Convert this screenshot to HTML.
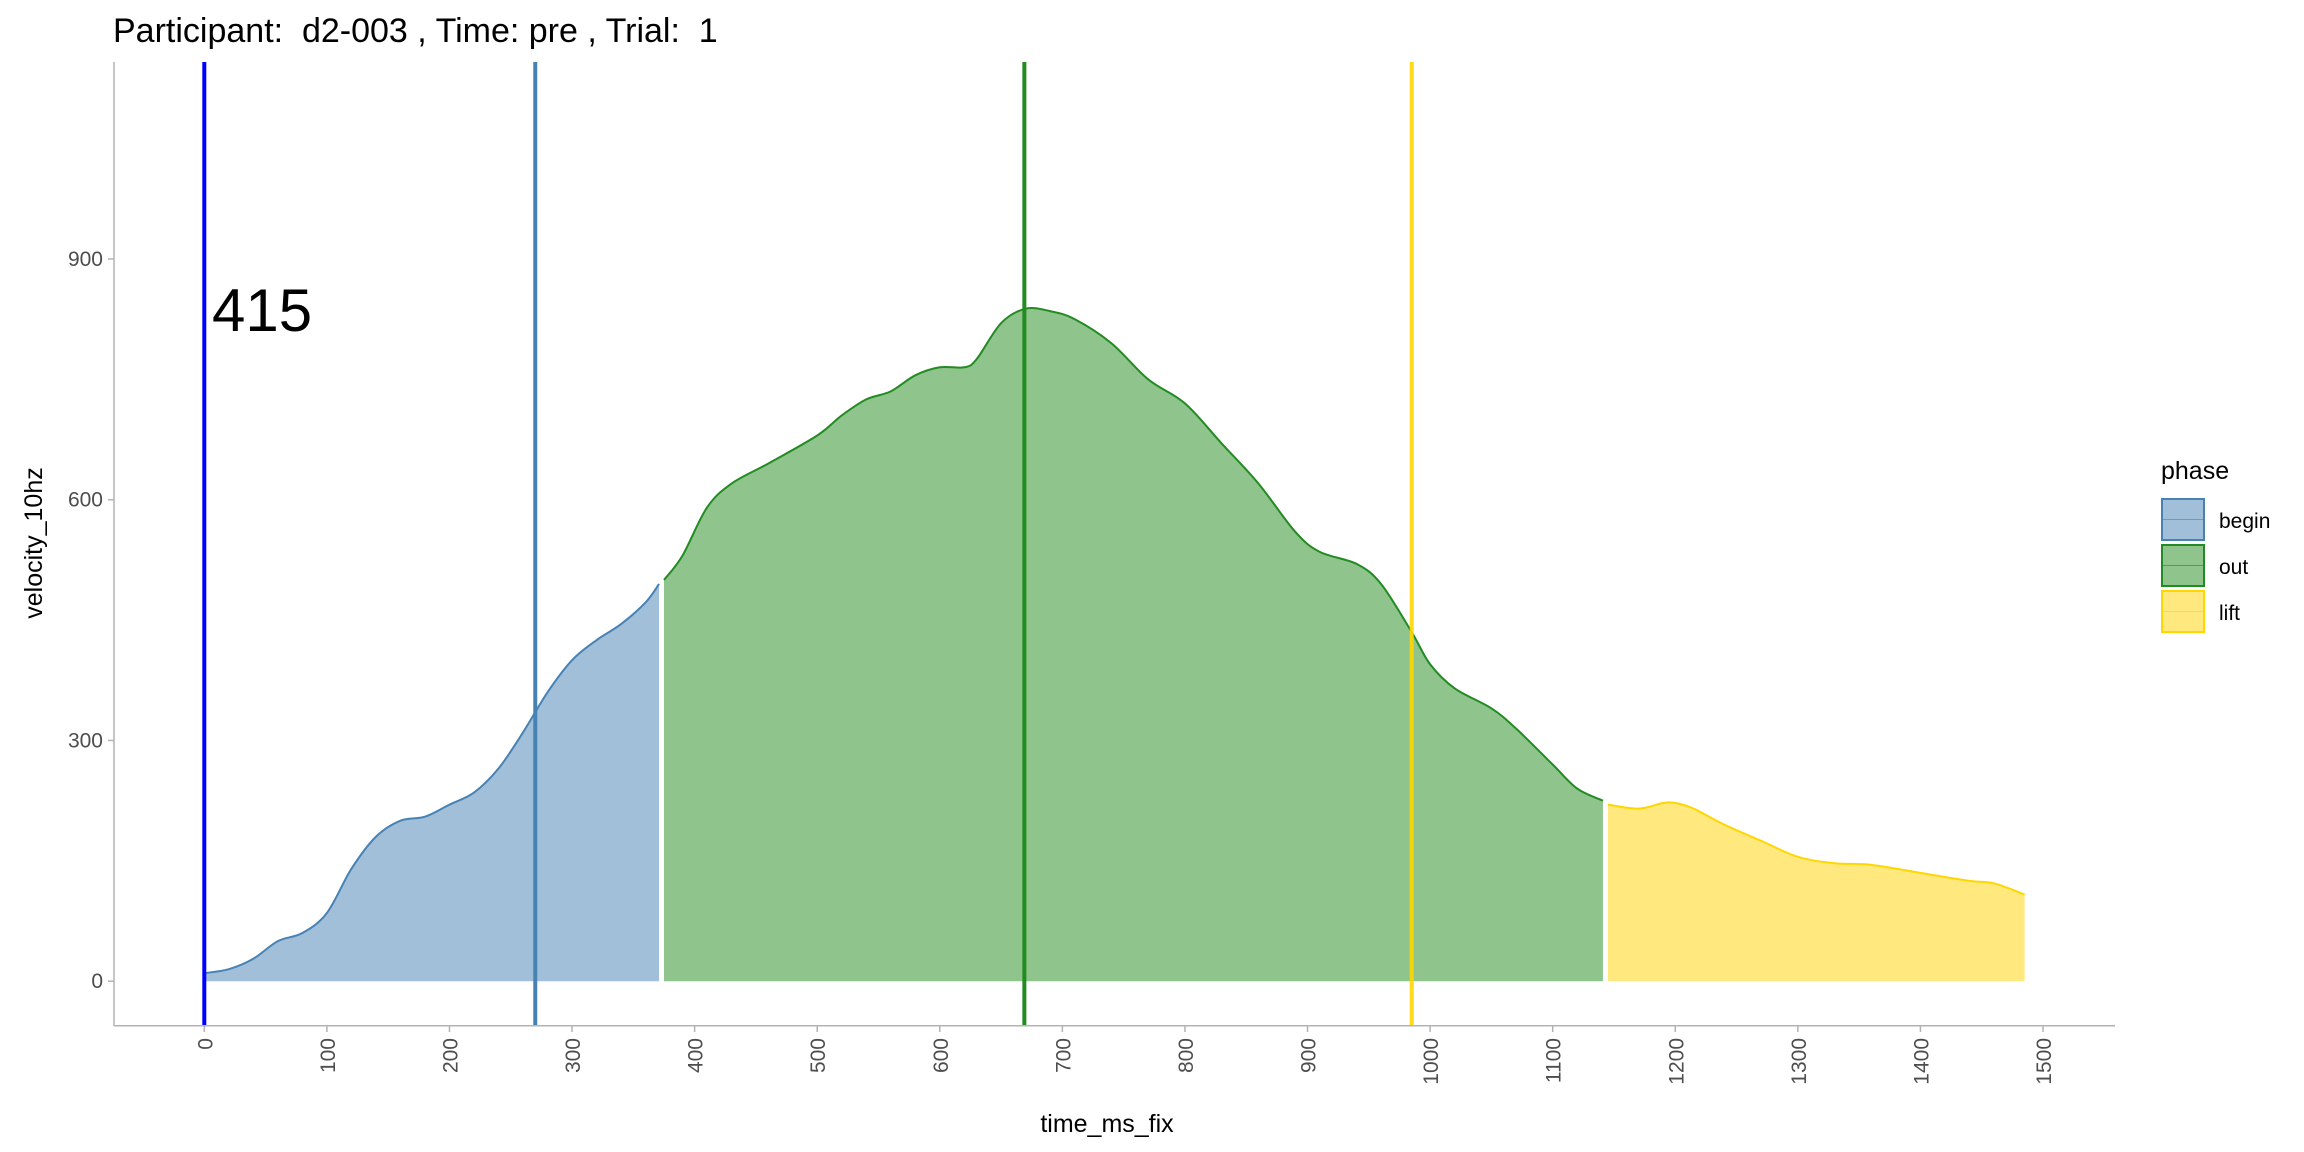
<!DOCTYPE html>
<html><head><meta charset="utf-8"><style>
html,body{margin:0;padding:0;background:#fff;}
svg{display:block;font-family:"Liberation Sans",Arial,sans-serif;}
</style></head><body>
<svg id="chart" width="2304" height="1152" viewBox="0 0 2304 1152" xmlns="http://www.w3.org/2000/svg">
<text x="113" y="42" font-size="34" fill="#000" style="white-space:pre" xml:space="preserve">Participant:  d2-003 , Time: pre , Trial:  1</text>
<g id="plot"></g>
<line x1="114" y1="62" x2="114" y2="1026" stroke="#b3b3b3" stroke-width="1.5"/>
<line x1="114" y1="1025.7" x2="2115" y2="1025.7" stroke="#b3b3b3" stroke-width="1.5"/>
<g id="xticks"></g>
<g id="yticks"></g>
<text x="1107" y="1132" font-size="25" text-anchor="middle" fill="#000">time_ms_fix</text>
<text transform="translate(42,543) rotate(-90)" font-size="25" text-anchor="middle" fill="#000">velocity_10hz</text>
<text x="212" y="331" font-size="60" fill="#000">415</text>
<g>
<text x="2161" y="479" font-size="25" fill="#000">phase</text>
<g>
<rect x="2162" y="499" width="42" height="41" fill="#a2bfda" stroke="#4682b4" stroke-width="2"/>
<line x1="2163" y1="519.5" x2="2203" y2="519.5" stroke="#4682b4" stroke-width="1" opacity="0.6"/>
<text x="2219" y="528" font-size="21" fill="#000">begin</text></g>
<g>
<rect x="2162" y="545" width="42" height="41" fill="#8fc48c" stroke="#228b22" stroke-width="2"/>
<line x1="2163" y1="565.5" x2="2203" y2="565.5" stroke="#228b22" stroke-width="1" opacity="0.6"/>
<text x="2219" y="574" font-size="21" fill="#000">out</text></g>
<g>
<rect x="2162" y="591" width="42" height="41" fill="#ffe97f" stroke="#ffd700" stroke-width="2"/>
<line x1="2163" y1="611.5" x2="2203" y2="611.5" stroke="#ffd700" stroke-width="1" opacity="0.6"/>
<text x="2219" y="620" font-size="21" fill="#000">lift</text></g>
</g>
</svg>
<script>
const xTicks=[0,100,200,300,400,500,600,700,800,900,1000,1100,1200,1300,1400,1500];
const yTicks=[0,300,600,900];
const beginT=[0,20,40,60,80,100,120,140,160,180,200,220,240,260,280,300,320,340,360,371];
const beginV=[10,15,28,50,60,85,140,180,200,205,220,235,265,310,360,400,425,445,472,495];
const outT=[375,390,410,430,460,500,520,540,560,580,600,620,630,650,670,690,710,740,770,800,830,860,890,910,940,960,985,1000,1020,1050,1070,1100,1120,1141];
const outV=[500,530,590,620,645,680,705,725,735,755,765,765,775,820,838,835,825,795,750,720,670,620,560,535,520,495,435,395,365,340,315,270,240,225];
const liftT=[1145,1170,1190,1200,1215,1240,1270,1300,1330,1360,1400,1440,1460,1485];
const liftV=[220,215,222,222,215,195,175,155,147,145,135,125,122,108];
const vlineT=[0,270,669,985];
const vlineColors=["#0000ff","#4682b4","#228b22","#ffd700"];
const NS="http://www.w3.org/2000/svg";
function xs(t){return 204.3+t*1.2258;}
function ys(v){return 981.2-v*0.8025;}
const plot=document.getElementById('plot');
function smoothPath(T,V){
  let d="M"+xs(T[0])+","+ys(V[0]);
  for(let i=0;i<T.length-1;i++){
    const p0=[xs(T[Math.max(i-1,0)]),ys(V[Math.max(i-1,0)])];
    const p1=[xs(T[i]),ys(V[i])];
    const p2=[xs(T[i+1]),ys(V[i+1])];
    const p3=[xs(T[Math.min(i+2,T.length-1)]),ys(V[Math.min(i+2,T.length-1)])];
    const c1=[p1[0]+(p2[0]-p0[0])/6,p1[1]+(p2[1]-p0[1])/6];
    const c2=[p2[0]-(p3[0]-p1[0])/6,p2[1]-(p3[1]-p1[1])/6];
    d+=" C"+c1+" "+c2+" "+p2;
  }
  return d;
}
function area(T,V,fill,stroke,name){
  const s=smoothPath(T,V);
  let d=s+" L"+xs(T[T.length-1])+","+ys(0)+" L"+xs(T[0])+","+ys(0)+" Z";
  const p=document.createElementNS(NS,'path');
  p.setAttribute('d',d);p.setAttribute('fill',fill);
  
  
  plot.appendChild(p);
  const q=document.createElementNS(NS,'path');
  q.setAttribute('d',s);q.setAttribute('fill','none');q.setAttribute('stroke',stroke);q.setAttribute('stroke-width','2');
  
  
  plot.appendChild(q);
}
area(beginT,beginV,"#a2bfda","#4682b4","begin");
area(outT,outV,"#8fc48c","#228b22","out");
area(liftT,liftV,"#ffe97f","#ffd700","lift");
vlineT.forEach((t,i)=>{
  const l=document.createElementNS(NS,'line');
  l.setAttribute('x1',xs(t));l.setAttribute('x2',xs(t));
  l.setAttribute('y1',62);l.setAttribute('y2',1025);
  l.setAttribute('stroke',vlineColors[i]);l.setAttribute('stroke-width','4');
  if(i===3)l.setAttribute('opacity','0.9');
  
  
  plot.appendChild(l);
});
const xg=document.getElementById('xticks');
xTicks.forEach(t=>{
  const x=xs(t);
  const tk=document.createElementNS(NS,'line');
  tk.setAttribute('x1',x);tk.setAttribute('x2',x);tk.setAttribute('y1',1026);tk.setAttribute('y2',1032);
  tk.setAttribute('stroke','#b3b3b3');tk.setAttribute('stroke-width','1.5');
  
  
  xg.appendChild(tk);
  const tx=document.createElementNS(NS,'text');
  tx.setAttribute('transform','translate('+(x+8)+',1038) rotate(-90)');
  tx.setAttribute('text-anchor','end');tx.setAttribute('font-size','21');tx.setAttribute('fill','#4d4d4d');
  tx.textContent=t;
  
  
  xg.appendChild(tx);
});
const yg=document.getElementById('yticks');
yTicks.forEach(v=>{
  const y=ys(v);
  const tk=document.createElementNS(NS,'line');
  tk.setAttribute('x1',108);tk.setAttribute('x2',114);tk.setAttribute('y1',y);tk.setAttribute('y2',y);
  tk.setAttribute('stroke','#b3b3b3');tk.setAttribute('stroke-width','1.5');
  
  
  yg.appendChild(tk);
  const tx=document.createElementNS(NS,'text');
  tx.setAttribute('x',103);tx.setAttribute('y',y+7);
  tx.setAttribute('text-anchor','end');tx.setAttribute('font-size','21');tx.setAttribute('fill','#4d4d4d');
  tx.textContent=v;
  
  
  yg.appendChild(tx);
});
</script>
</body></html>
